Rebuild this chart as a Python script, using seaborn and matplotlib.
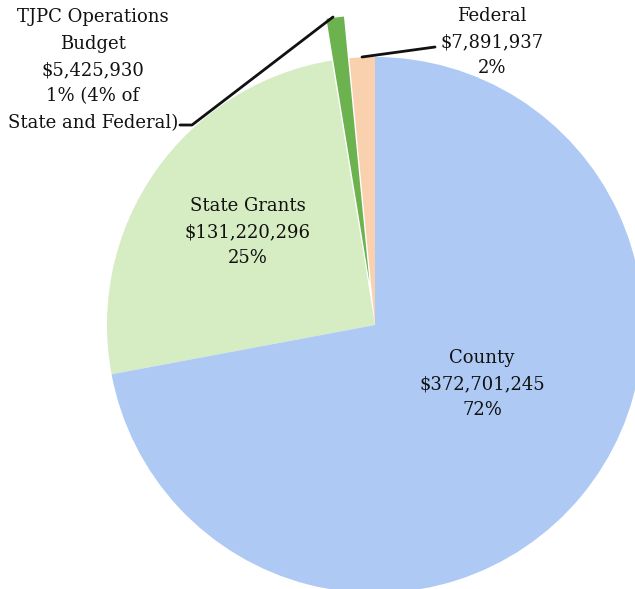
import matplotlib
matplotlib.use("Agg")
import matplotlib.pyplot as plt
import seaborn as sns

# Funding sources (dollars), listed counter-clockwise from the top
sources = ["Federal", "TJPC Operations Budget", "State Grants", "County"]
amounts = [7891937, 5425930, 131220296, 372701245]
colors = ["#F9D1AE", "#6CB24E", "#D6ECC2", "#AECAF4"]

labels = [
    "Federal\n$7,891,937\n2%",
    "TJPC Operations\nBudget\n$5,425,930\n1% (4% of\nState and Federal)",
    "State Grants\n$131,220,296\n25%",
    "County\n$372,701,245\n72%",
]

sns.set_theme(style="white")
plt.rcParams["font.family"] = ["DejaVu Serif"]

W, H = 635, 589
fig = plt.figure(figsize=(W / 100, H / 100), dpi=100)
ax = fig.add_axes([0, 0, 1, 1])

cx, cy, R = 375, H - 325, 268
# pull the TJPC slice outwards (offset in data units)
explode = [0.0, 42.0, 0.0, 0.0]
ax.pie(amounts, colors=colors, explode=explode, startangle=90,
       counterclock=True, center=(cx, cy), radius=R, frame=True,
       wedgeprops=dict(linewidth=0))
ax.set_xlim(0, W)
ax.set_ylim(0, H)
ax.set_aspect("equal")
ax.axis("off")

txt = dict(ha="center", va="center", fontsize=13, color="#111111",
           linespacing=1.6)
# Federal and TJPC labels with leader lines
ax.text(492, H - 42, labels[0], **txt)
ax.plot([362, 435], [H - 57, H - 47], color="#111111", lw=2)
ax.text(93, H - 70, labels[1], **txt)
ax.plot([180, 192, 333], [H - 125, H - 125, H - 17], color="#111111", lw=2)
# In-slice labels
ax.text(248, H - 232, labels[2], **txt)
ax.text(482, H - 384, labels[3], **txt)

fig.savefig("out.png", dpi=100, facecolor="white")
